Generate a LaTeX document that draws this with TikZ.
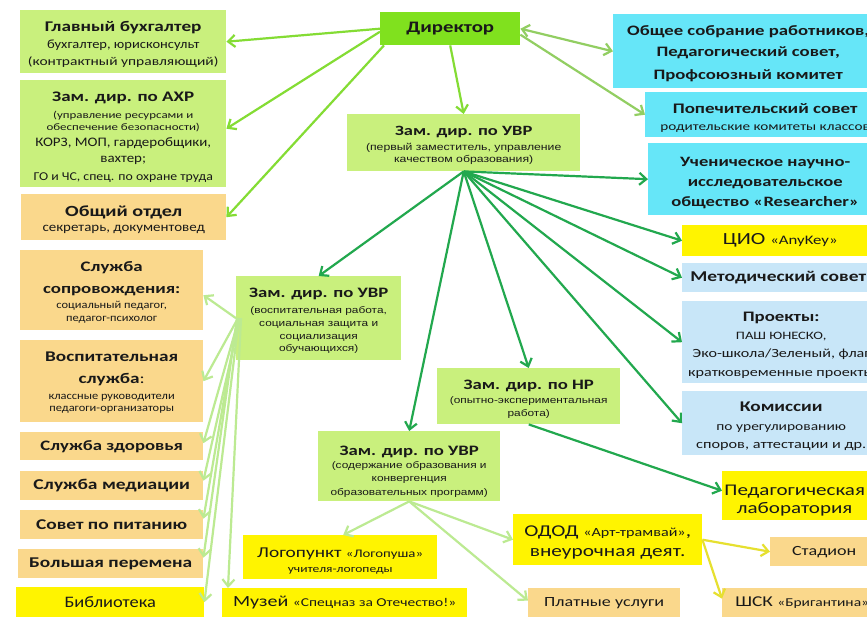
\documentclass[tikz,border=0pt]{standalone}
\usepackage{fontspec}
\setmainfont{Carlito}
\newfontfamily\regfam{Carlito}[FakeStretch=1.15]
\newfontfamily\ttlfam{Carlito}[FakeStretch=1.3]
\newfontfamily\widefam{Carlito}[FakeStretch=1.29]
\newfontfamily\arialfam{Liberation Sans}[FakeStretch=1.25]
\usetikzlibrary{arrows.meta,calc}
\definecolor{lgreen}{HTML}{C9F07D}
\definecolor{dirgreen}{HTML}{80E11E}
\definecolor{beige}{HTML}{FAD88C}
\definecolor{yel}{HTML}{FFF400}
\definecolor{cyanbox}{HTML}{66E6F8}
\definecolor{lblue}{HTML}{C8E6F8}
\definecolor{darr}{HTML}{22A84E}
\definecolor{larr}{HTML}{84DC34}
\definecolor{parr}{HTML}{BCEA92}
\definecolor{garr}{HTML}{92CE62}
\definecolor{yarr}{HTML}{E6E030}
% one font per line; line distances come from \\[..]
\newcommand\cardfont{\fontsize{10}{0}\selectfont\lineskiplimit=-100pt\lineskip=0pt}
\newcommand\hdf[1]{\ttlfam\bfseries\fontsize{#1}{#1}\selectfont}
\newcommand\nmf[1]{\regfam\mdseries\fontsize{#1}{#1}\selectfont}
\newcommand\wdf[1]{\widefam\mdseries\fontsize{#1}{#1}\selectfont}
\newcommand\paf[1]{\arialfam\mdseries\fontsize{#1}{#1}\selectfont}
% gap above the first baseline, below the last one
\newcommand\topgap[1]{\rule{0pt}{#1pt}}
\newcommand\botgap[1]{\rule[-#1pt]{0pt}{0pt}}
\tikzset{
  card/.style={anchor=north west, inner sep=0pt, align=center, text=black!90, font=\cardfont},
  gbox/.style={card, fill=lgreen},
  obox/.style={card, fill=beige},
  ybox/.style={card, fill=yel},
  cbox/.style={card, fill=cyanbox},
  bbox/.style={card, fill=lblue},
  arr/.style={-{Straight Barb[length=7pt,width=12pt]}, line width=2.2pt}
}

\begin{document}
\begin{tikzpicture}[x=1pt,y=-1pt]
  \clip (0,0) rectangle (867,617);
  \fill[white] (0,0) rectangle (867,617);

  % left column
  \node (glbuh) at (20,10) [gbox, minimum width=206, minimum height=63]{\hdf{14.8}\topgap{21.5}Главный бухгалтер\\[16.5pt] \nmf{12.6}бухгалтер, юрисконсульт\\[17pt] \wdf{12}(контрактный управляющий)\botgap{8}};
  \node (ahr) at (20,80) [gbox, minimum width=206, minimum height=107]{\hdf{14.6}\topgap{21.7}Зам. дир. по АХР\\[16.3pt] \wdf{10}(управление ресурсами и\\[12pt] \wdf{10}обеспечение безопасности)\\[16.7pt] \nmf{13}КОРЗ, МОП, гардеробщики,\\[16pt] \nmf{13}вахтер;\\[17.3pt] \nmf{12}ГО и ЧС, спец. по охране труда\botgap{7}};
  \node (obsh) at (21,194) [obox, minimum width=205, minimum height=46]{\hdf{15.5}\topgap{22}Общий отдел\\[15.7pt] \nmf{13}секретарь, документовед\botgap{8.3}};
  \node (sopr) at (20,250) [obox, minimum width=183, minimum height=80]{\hdf{14.5}\topgap{21}Служба\\[22.3pt] \hdf{14.5}сопровождения:\\[15pt] \nmf{10.8}социальный педагог,\\[13.4pt] \nmf{10.8}педагог-психолог\botgap{8.3}};
  \node (vosp) at (20,340) [obox, minimum width=183, minimum height=82]{\hdf{14.8}\topgap{21.7}Воспитательная\\[21.6pt] \hdf{14.8}служба\mdseries:\\[16pt] \nmf{10.8}классные руководители\\[12.4pt] \nmf{10.8}педагоги-организаторы\botgap{10.3}};
  \node (zdor) at (20,432) [obox, minimum width=183, minimum height=28]{\hdf{14.4}Служба здоровья};
  \node (med) at (20,471) [obox, minimum width=183, minimum height=29]{\hdf{15}Служба медиации};
  \node (pit) at (20,510) [obox, minimum width=183, minimum height=29]{\hdf{14.9}Совет по питанию};
  \node (per) at (18,549) [obox, minimum width=185, minimum height=29]{\hdf{14.9}Большая перемена};
  \node (bib) at (16,587) [ybox, minimum width=188, minimum height=30]{\nmf{16}Библиотека};

  % director and deputies
  \node (dir) at (380,12) [card, fill=dirgreen, minimum width=140, minimum height=33]{\hdf{16}Директор};
  \node (uvr1) at (347,114) [gbox, minimum width=233, minimum height=57]{\hdf{14.2}\topgap{21}Зам. дир. по УВР\\[15pt] \paf{9.8}(первый заместитель, управление\\[12.3pt] \paf{9.8}качеством образования)\botgap{8.7}};
  \node (uvr2) at (236,276) [gbox, minimum width=165, minimum height=84]{\hdf{14.4}\topgap{21.3}Зам. дир. по УВР\\[16pt] \paf{9.5}(воспитательная работа,\\[13pt] \paf{9.5}социальная защита и\\[13pt] \paf{9.5}социализация\\[12.5pt] \paf{9.5}обучающихся)\botgap{8.2}};
  \node (nr) at (437,368) [gbox, minimum width=183, minimum height=56]{\hdf{14.4}\topgap{21.3}Зам. дир. по НР\\[14pt] \paf{9.5}(опытно-экспериментальная\\[13.4pt] \paf{9.5}работа)\botgap{7.3}};
  \node (uvr3) at (318,431) [gbox, minimum width=182, minimum height=70]{\hdf{14.4}\topgap{24}Зам. дир. по УВР\\[13.3pt] \paf{9.5}(содержание образования и\\[13.4pt] \paf{9.5}конвергенция\\[13.3pt] \paf{9.5}образовательных программ)\botgap{6}};

  % right column
  \node (sobr) at (613,14) [cbox, minimum width=270, minimum height=74]{\hdf{14.4}\topgap{21}Общее собрание работников,\\[21.5pt] \hdf{14.4}Педагогический совет,\\[23.3pt] \hdf{14.4}Профсоюзный комитет\botgap{8.5}};
  \node (pop) at (645,92) [cbox, minimum width=240, minimum height=45]{\hdf{14.6}\topgap{21.3}Попечительский совет\\[16.7pt] \wdf{11.8}родительские комитеты классов\botgap{7}};
  \node (uch) at (648,143) [cbox, minimum width=234, minimum height=72]{\hdf{14.3}\topgap{23.7}Ученическое научно-\\[20pt] \hdf{14.3}исследовательское\\[20pt] \hdf{14.3}общество «Researcher»\botgap{8.3}};
  \node (cio) at (682,225) [ybox, minimum width=196, minimum height=31]{\wdf{17}ЦИО \wdf{13}«AnyKey»};
  \node (metod) at (682,263) [bbox, minimum width=192, minimum height=29]{\hdf{15}Методический совет};
  \node (proj) at (682,301) [bbox, minimum width=198, minimum height=82]{\hdf{14.5}\topgap{20.7}Проекты:\\[17.6pt] \wdf{11.3}ПАШ ЮНЕСКО,\\[18.4pt] \wdf{12.5}Эко-школа/Зеленый, флаг\\[19pt] \wdf{12.5}кратковременные проекты\botgap{6.3}};
  \node (kom) at (682,391) [bbox, minimum width=198, minimum height=64]{\hdf{14.8}\topgap{20.7}Комиссии\\[18.3pt] \wdf{12}по урегулированию\\[18.3pt] \wdf{12.6}споров, аттестации и др.\botgap{6.7}};
  \node (pedlab) at (722,471) [ybox, minimum width=145, minimum height=49]{\wdf{16.3}\topgap{24}Педагогическая\\[18.3pt] \wdf{16.3}лаборатория\botgap{6.7}};
  \node (stad) at (770,537) [obox, minimum width=108, minimum height=29]{\wdf{14}Стадион};
  \node (shsk) at (722,588) [obox, minimum width=160, minimum height=29]{\wdf{15}ШСК \wdf{12}«Бригантина»};

  % bottom row
  \node (logo) at (243,535) [ybox, minimum width=194, minimum height=44]{\wdf{15}\topgap{22}Логопункт \wdf{11.5}«Логопуша»\\[15pt] \wdf{10.5}учителя-логопеды\botgap{7}};
  \node (muz) at (222,588) [ybox, minimum width=245, minimum height=29]{\wdf{15.5}Музей \wdf{12}«Спецназ за Отечество!»};
  \node (odod) at (513,514) [ybox, minimum width=189, minimum height=51]{\wdf{16.5}\topgap{22}ОДОД \wdf{12.5}«Арт-трамвай»\wdf{16.5},\\[20pt] \wdf{16.5}внеурочная деят.\botgap{9}};
  \node (plat) at (528,588) [obox, minimum width=152, minimum height=29]{\wdf{14}Платные услуги};

  % director links
  \draw[arr, larr] (dir.west) -- (glbuh.east);
  \draw[arr, larr] ([yshift=-3]dir.west) -- ([yshift=5]ahr.east);
  \draw[arr, larr] ([xshift=4]dir.south west) -- (obsh.east);
  \draw[arr, larr] (dir.south) -- (uvr1.north);
  \draw[{Straight Barb[length=7pt,width=12pt]}-{Straight Barb[length=7pt,width=12pt]}, line width=2.2pt, garr] (dir.east) -- (sobr.west);
  \draw[arr, garr] ([yshift=-6]dir.east) -- (pop.west);

  % first deputy links
  \draw[arr, darr] (uvr1.south) -- (uch.west);
  \draw[arr, darr] (uvr1.south) -- (cio.west);
  \draw[arr, darr] (uvr1.south) -- (metod.west);
  \draw[arr, darr] (uvr1.south) -- (proj.west);
  \draw[arr, darr] (uvr1.south) -- (kom.west);
  \draw[arr, darr] (uvr1.south) -- (nr.north);
  \draw[arr, darr] (uvr1.south) -- (uvr3.north);
  \draw[arr, darr] (uvr1.south) -- (uvr2.north);
  \draw[arr, darr] (nr.south) -- ([yshift=5]pedlab.west);

  % educational work links
  \draw[arr, parr] (uvr2.west) -- ([yshift=-5]sopr.east);
  \draw[arr, parr] ([xshift=2]uvr2.west) -- (vosp.east);
  \draw[arr, parr] ([xshift=3]uvr2.west) -- ([yshift=3]zdor.east);
  \draw[arr, parr] ([xshift=4]uvr2.west) -- ([yshift=5]med.east);
  \draw[arr, parr] ([xshift=2]uvr2.west) -- ([yshift=6]pit.east);
  \draw[arr, parr] ([xshift=1]uvr2.west) -- ([yshift=6]per.east);
  \draw[arr, parr] ([xshift=3]uvr2.west) -- (bib.east);
  \draw[arr, parr] ([xshift=5]uvr2.west) -- ([xshift=6]muz.north west);

  % content deputy links
  \draw[arr, parr] (uvr3.south) -- ([xshift=3]logo.north);
  \draw[arr, parr] (uvr3.south) -- (odod.west);
  \draw[arr, parr] (uvr3.south) -- ([yshift=2]plat.west);
  \draw[arr, yarr] (odod.east) -- (stad.west);
  \draw[arr, yarr] (odod.east) -- ([yshift=4]shsk.west);
\end{tikzpicture}
\end{document}
